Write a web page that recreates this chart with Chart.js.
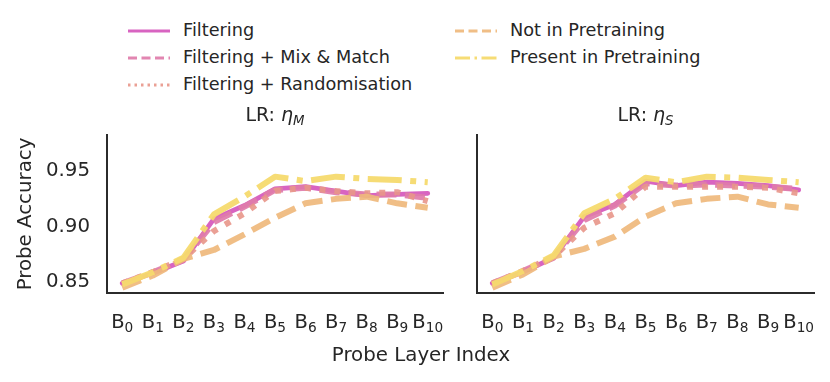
<!DOCTYPE html>
<html><head><meta charset="utf-8">
<script src="https://cdn.jsdelivr.net/npm/chart.js@4.4.1/dist/chart.umd.min.js"></script>
<style>
body{margin:0;background:#fff;width:830px;height:382px;position:relative;overflow:hidden;font-family:"DejaVu Sans";color:#262626}
.lg{position:absolute;font-size:17.7px;line-height:20px;white-space:nowrap}
.sw{position:absolute}
#ylab{position:absolute;width:220px;text-align:center;font-size:19.8px;line-height:22px;left:-85px;top:203px;transform:rotate(-90deg);transform-origin:center}
#xlab{position:absolute;width:300px;text-align:center;font-size:19.8px;line-height:22px;left:271px;top:344px}
canvas{position:absolute}
</style></head><body>
<div id="legend"></div>
<canvas id="c1" width="460" height="282" style="left:0;top:100px"></canvas>
<canvas id="c2" width="370" height="282" style="left:460px;top:100px"></canvas>
<div id="ylab">Probe Accuracy</div>
<div id="xlab">Probe Layer Index</div>
<script>
// ---- data ----
const layerBase = 'B';
const layerIdx = ['0','1','2','3','4','5','6','7','8','9','10'];
const layerLabels = layerIdx.map(i => layerBase + i);
const seriesNames = ['Filtering','Filtering + Mix & Match','Filtering + Randomisation','Not in Pretraining','Present in Pretraining'];
const yTicks = [0.85, 0.90, 0.95];

// LR: eta_M panel
const filteringM = [0.849, 0.858, 0.869, 0.907, 0.919, 0.934, 0.936, 0.932, 0.928, 0.929, 0.930];
const mixMatchM  = [0.849, 0.859, 0.870, 0.904, 0.918, 0.933, 0.935, 0.931, 0.929, 0.929, 0.926];
const randomM    = [0.849, 0.859, 0.871, 0.896, 0.912, 0.932, 0.935, 0.932, 0.930, 0.931, 0.923];
const notPreM    = [0.845, 0.856, 0.871, 0.879, 0.893, 0.908, 0.921, 0.925, 0.927, 0.921, 0.917];
const presentM   = [0.848, 0.859, 0.872, 0.911, 0.927, 0.945, 0.941, 0.945, 0.943, 0.942, 0.940];

// LR: eta_S panel
const filteringS = [0.849, 0.859, 0.872, 0.909, 0.920, 0.941, 0.937, 0.940, 0.939, 0.937, 0.933];
const mixMatchS  = [0.849, 0.860, 0.872, 0.906, 0.919, 0.939, 0.937, 0.938, 0.937, 0.936, 0.934];
const randomS    = [0.849, 0.860, 0.873, 0.899, 0.912, 0.936, 0.936, 0.936, 0.936, 0.935, 0.930];
const notPreS    = [0.845, 0.857, 0.873, 0.880, 0.891, 0.909, 0.921, 0.925, 0.927, 0.920, 0.917];
const presentS   = [0.848, 0.860, 0.874, 0.912, 0.925, 0.944, 0.940, 0.945, 0.944, 0.942, 0.940];

// ---- styles ----
const colors = ['rgba(214,92,190,0.95)','rgba(224,124,170,0.92)','rgba(232,150,138,0.9)','rgba(239,184,124,0.92)','rgba(246,218,110,0.95)'];
const widths = [4.8, 6, 6, 6, 6];
const dashes = [[], [20,8.5], [6,9], [20,8.5], [34,8.5,6,8.5]];
const legendDashes = [[], [9,4.5], [2.5,4], [9,4.5], [15,4.5,2.5,4.5]];
const FONT = '"DejaVu Sans"';
const TXT = '#262626';
const SPINE = '#2b2b2b';

// ---- legend ----
const legend = document.getElementById('legend');
const legendPos = [[128,31],[128,58],[128,85],[455,31],[455,58]];
seriesNames.forEach((n,i)=>{
  const [x,y] = legendPos[i];
  const svg = document.createElementNS('http://www.w3.org/2000/svg','svg');
  svg.setAttribute('width','42'); svg.setAttribute('height','10');
  svg.setAttribute('class','sw');
  svg.style.left = x+'px'; svg.style.top = (y-5)+'px';
  const ln = document.createElementNS('http://www.w3.org/2000/svg','line');
  ln.setAttribute('x1','0'); ln.setAttribute('x2','42'); ln.setAttribute('y1','5'); ln.setAttribute('y2','5');
  ln.setAttribute('stroke', colors[i]); ln.setAttribute('stroke-width','2.8');
  if (legendDashes[i].length) ln.setAttribute('stroke-dasharray', legendDashes[i].join(' '));
  svg.appendChild(ln);
  legend.appendChild(svg);
  const t = document.createElement('div');
  t.className='lg'; t.textContent = n;
  t.style.left = (x+55)+'px'; t.style.top = (y-11)+'px';
  legend.appendChild(t);
});

// ---- panel title + subscripted tick labels plugin ----
const textPlugin = {
  id:'paneltext',
  afterDraw(chart, args, opts){
    const ctx = chart.ctx, ca = chart.chartArea;
    ctx.save();
    ctx.fillStyle = TXT; ctx.textBaseline = 'alphabetic'; ctx.textAlign='left';
    // title
    const cx = (ca.left+ca.right)/2, y = opts.y;
    const size = 19;
    const p1 = 'LR: ', p2 = '\u03B7', p3 = opts.sub;
    ctx.font = size+'px '+FONT; const w1 = ctx.measureText(p1).width;
    ctx.font = 'italic '+size+'px '+FONT; const w2 = ctx.measureText(p2).width;
    ctx.font = 'italic '+(size*0.7)+'px '+FONT; const w3 = ctx.measureText(p3).width;
    let x = cx - (w1+w2+w3)/2;
    ctx.font = size+'px '+FONT; ctx.fillText(p1, x, y); x += w1;
    ctx.font = 'italic '+size+'px '+FONT; ctx.fillText(p2, x, y); x += w2;
    ctx.font = 'italic '+(size*0.7)+'px '+FONT; ctx.fillText(p3, x, y+4);
    // x tick labels with subscripts
    const xs = chart.scales.x;
    const bs = 19.5, ss = 13.7;
    const base = ca.bottom + 35;
    layerIdx.forEach((sub,i)=>{
      const px = xs.getPixelForValue(i);
      ctx.font = bs+'px '+FONT; const wb = ctx.measureText(layerBase).width;
      ctx.font = ss+'px '+FONT; const wsub = ctx.measureText(sub).width;
      let sx = px - (wb+wsub)/2;
      ctx.font = bs+'px '+FONT; ctx.fillText(layerBase, sx, base);
      ctx.font = ss+'px '+FONT; ctx.fillText(sub, sx+wb, base+4.5);
    });
    ctx.restore();
  }
};

function makeDatasets(arrs){
  return arrs.map((d,i)=>({
    label: seriesNames[i], data: d,
    borderColor: colors[i], backgroundColor: colors[i],
    borderWidth: widths[i], borderDash: dashes[i],
    borderCapStyle: i===0 ? 'round' : 'butt', borderJoinStyle:'round',
    pointRadius: 0, tension: 0, fill:false,
    order: 4 - i
  }));
}

function makeChart(id, arrs, sub, showY, yWidth, padRight){
  return new Chart(document.getElementById(id), {
    type:'line',
    data:{ labels: layerLabels, datasets: makeDatasets(arrs) },
    plugins:[textPlugin],
    options:{
      responsive:false, animation:false, devicePixelRatio:1,
      layout:{ padding:{ top:35, right:padRight, left:0, bottom:0 } },
      plugins:{ legend:{display:false}, tooltip:{enabled:false}, title:{display:false},
        paneltext:{ sub: sub, y: 21 } },
      scales:{
        x:{ type:'category', offset:true,
          grid:{display:false, drawTicks:false},
          border:{display:true, color:SPINE, width:2},
          ticks:{ display:false },
          afterFit(s){ s.height = 89.5; } },
        y:{ min:0.8407, max:0.9825,
          grid:{display:false, drawTicks:false},
          border:{display:true, color:SPINE, width:2},
          ticks:{ display: showY, color:TXT, font:{family:FONT, size:19.8}, padding:17,
            callback:(v)=>Number(v).toFixed(2) },
          afterBuildTicks(s){ s.ticks = yTicks.map(v=>({value:v})); },
          afterFit(s){ s.width = yWidth; } }
      }
    }
  });
}

makeChart('c1', [filteringM, mixMatchM, randomM, notPreM, presentM], 'M', true, 107, 17);
makeChart('c2', [filteringS, mixMatchS, randomS, notPreS, presentS], 'S', false, 17, 16);
</script>
</body></html>
